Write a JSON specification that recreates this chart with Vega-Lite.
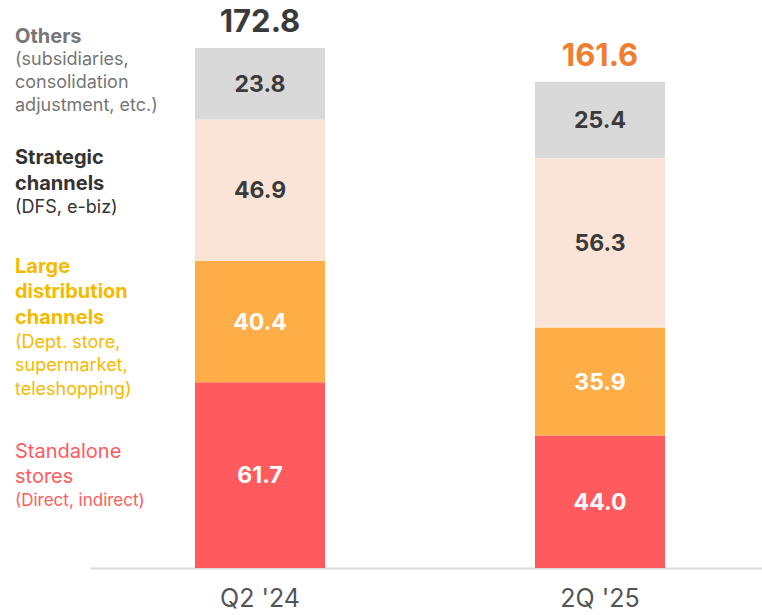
{
  "$schema": "https://vega.github.io/schema/vega-lite/v6.json",
  "width": 762,
  "height": 568,
  "autosize": {"type": "none"},
  "padding": {"left": 0, "top": 0, "right": 0, "bottom": 47},
  "background": "white",
  "config": {"view": {"stroke": null}, "font": "Inter", "text": {"font": "Inter"}},
  "datasets": {
    "segments": [
      {"period": "Q2 '24", "channel": "Standalone stores", "order": 1, "value": 61.7},
      {"period": "Q2 '24", "channel": "Large distribution channels", "order": 2, "value": 40.4},
      {"period": "Q2 '24", "channel": "Strategic channels", "order": 3, "value": 46.9},
      {"period": "Q2 '24", "channel": "Others", "order": 4, "value": 23.8},
      {"period": "2Q '25", "channel": "Standalone stores", "order": 1, "value": 44.0},
      {"period": "2Q '25", "channel": "Large distribution channels", "order": 2, "value": 35.9},
      {"period": "2Q '25", "channel": "Strategic channels", "order": 3, "value": 56.3},
      {"period": "2Q '25", "channel": "Others", "order": 4, "value": 25.4}
    ],
    "channels": [
      {"channel": "Others", "title": "Others", "note": "(subsidiaries,\nconsolidation\nadjustment, etc.)"},
      {"channel": "Strategic channels", "title": "Strategic\nchannels", "note": "(DFS, e-biz)"},
      {"channel": "Large distribution channels", "title": "Large\ndistribution\nchannels", "note": "(Dept. store,\nsupermarket,\nteleshopping)"},
      {"channel": "Standalone stores", "title": "Standalone\nstores", "note": "(Direct, indirect)"}
    ]
  },
  "data": {"name": "segments"},
  "transform": [
    {"stack": "value", "groupby": ["period"], "sort": [{"field": "order", "order": "ascending"}], "as": ["v0", "v1"]},
    {"calculate": "(datum.v0 + datum.v1) / 2", "as": "mid"}
  ],
  "encoding": {
    "x": {
      "field": "period",
      "type": "nominal",
      "sort": ["Q2 '24", "2Q '25"],
      "scale": {"range": [90, 770], "paddingInner": 0.6176, "paddingOuter": 0.3088},
      "axis": {
        "title": null,
        "labelAngle": 0,
        "labelFont": "Inter",
        "labelFontSize": 25,
        "labelColor": "#555555",
        "labelPadding": 18,
        "ticks": false,
        "tickSize": 0,
        "domainColor": "#DADADA",
        "domainWidth": 2,
        "grid": false
      }
    }
  },
  "layer": [
    {
      "mark": {"type": "bar"},
      "encoding": {
        "y": {"field": "v0", "type": "quantitative", "scale": {"domain": [0, 188.75], "nice": false, "zero": true}, "axis": null},
        "y2": {"field": "v1"},
        "color": {
          "field": "channel",
          "type": "nominal",
          "scale": {
            "domain": ["Standalone stores", "Large distribution channels", "Strategic channels", "Others"],
            "range": ["#FF5B5F", "#FFAE47", "#FAE4D7", "#D9D9D9"]
          },
          "legend": null
        }
      }
    },
    {
      "mark": {"type": "text", "font": "Inter", "fontSize": 23, "fontWeight": "bold", "baseline": "middle", "align": "center", "dy": 1},
      "encoding": {
        "y": {"field": "mid", "type": "quantitative"},
        "text": {"field": "value", "type": "quantitative", "format": ".1f"},
        "color": {
          "condition": {"test": "datum.order <= 2", "value": "#FFFFFF"},
          "value": "#3A3A3A"
        }
      }
    },
    {
      "transform": [{"aggregate": [{"op": "sum", "field": "value", "as": "total"}], "groupby": ["period"]}],
      "mark": {"type": "text", "font": "Inter", "fontSize": 31, "fontWeight": "bold", "baseline": "alphabetic", "align": "center", "dy": -16},
      "encoding": {
        "y": {"field": "total", "type": "quantitative"},
        "text": {"field": "total", "type": "quantitative", "format": ".1f"},
        "color": {
          "condition": {"test": "datum.period === \"2Q '25\"", "value": "#F07E30"},
          "value": "#3A3A3A"
        }
      }
    },
    {
      "transform": [
        {"filter": {"and": [{"field": "period", "equal": "Q2 '24"}, {"field": "channel", "equal": "Others"}]}},
        {"lookup": "channel", "from": {"data": {"name": "channels"}, "key": "channel", "fields": ["title", "note"]}}
      ],
      "mark": {"type": "text", "font": "Inter", "fontSize": 20, "fontWeight": "bold", "align": "left", "baseline": "alphabetic", "lineBreak": "\n", "lineHeight": 25, "dx": -245, "dy": -41, "color": "#767676"},
      "encoding": {"y": {"field": "mid", "type": "quantitative"}, "text": {"field": "title"}}
    },
    {
      "transform": [
        {"filter": {"and": [{"field": "period", "equal": "Q2 '24"}, {"field": "channel", "equal": "Others"}]}},
        {"lookup": "channel", "from": {"data": {"name": "channels"}, "key": "channel", "fields": ["title", "note"]}}
      ],
      "mark": {"type": "text", "font": "Inter", "fontSize": 18, "align": "left", "baseline": "alphabetic", "lineBreak": "\n", "lineHeight": 23, "dx": -245, "dy": -19, "color": "#767676"},
      "encoding": {"y": {"field": "mid", "type": "quantitative"}, "text": {"field": "note"}}
    },
    {
      "transform": [
        {"filter": {"and": [{"field": "period", "equal": "Q2 '24"}, {"field": "channel", "equal": "Strategic channels"}]}},
        {"lookup": "channel", "from": {"data": {"name": "channels"}, "key": "channel", "fields": ["title", "note"]}}
      ],
      "mark": {"type": "text", "font": "Inter", "fontSize": 20, "fontWeight": "bold", "align": "left", "baseline": "alphabetic", "lineBreak": "\n", "lineHeight": 26, "dx": -245, "dy": -26, "color": "#333333"},
      "encoding": {"y": {"field": "mid", "type": "quantitative"}, "text": {"field": "title"}}
    },
    {
      "transform": [
        {"filter": {"and": [{"field": "period", "equal": "Q2 '24"}, {"field": "channel", "equal": "Strategic channels"}]}},
        {"lookup": "channel", "from": {"data": {"name": "channels"}, "key": "channel", "fields": ["title", "note"]}}
      ],
      "mark": {"type": "text", "font": "Inter", "fontSize": 18, "align": "left", "baseline": "alphabetic", "lineBreak": "\n", "lineHeight": 23, "dx": -245, "dy": 23, "color": "#333333"},
      "encoding": {"y": {"field": "mid", "type": "quantitative"}, "text": {"field": "note"}}
    },
    {
      "transform": [
        {"filter": {"and": [{"field": "period", "equal": "Q2 '24"}, {"field": "channel", "equal": "Large distribution channels"}]}},
        {"lookup": "channel", "from": {"data": {"name": "channels"}, "key": "channel", "fields": ["title", "note"]}}
      ],
      "mark": {"type": "text", "font": "Inter", "fontSize": 20, "fontWeight": "bold", "align": "left", "baseline": "alphabetic", "lineBreak": "\n", "lineHeight": 25.5, "dx": -245, "dy": -49, "color": "#F5BA00"},
      "encoding": {"y": {"field": "mid", "type": "quantitative"}, "text": {"field": "title"}}
    },
    {
      "transform": [
        {"filter": {"and": [{"field": "period", "equal": "Q2 '24"}, {"field": "channel", "equal": "Large distribution channels"}]}},
        {"lookup": "channel", "from": {"data": {"name": "channels"}, "key": "channel", "fields": ["title", "note"]}}
      ],
      "mark": {"type": "text", "font": "Inter", "fontSize": 18, "align": "left", "baseline": "alphabetic", "lineBreak": "\n", "lineHeight": 23.5, "dx": -245, "dy": 26, "color": "#F5BA00"},
      "encoding": {"y": {"field": "mid", "type": "quantitative"}, "text": {"field": "note"}}
    },
    {
      "transform": [
        {"filter": {"and": [{"field": "period", "equal": "Q2 '24"}, {"field": "channel", "equal": "Standalone stores"}]}},
        {"lookup": "channel", "from": {"data": {"name": "channels"}, "key": "channel", "fields": ["title", "note"]}}
      ],
      "mark": {"type": "text", "font": "Inter", "fontSize": 20, "align": "left", "baseline": "alphabetic", "lineBreak": "\n", "lineHeight": 25, "dx": -245, "dy": -17, "color": "#FF5B5F"},
      "encoding": {"y": {"field": "mid", "type": "quantitative"}, "text": {"field": "title"}}
    },
    {
      "transform": [
        {"filter": {"and": [{"field": "period", "equal": "Q2 '24"}, {"field": "channel", "equal": "Standalone stores"}]}},
        {"lookup": "channel", "from": {"data": {"name": "channels"}, "key": "channel", "fields": ["title", "note"]}}
      ],
      "mark": {"type": "text", "font": "Inter", "fontSize": 17, "align": "left", "baseline": "alphabetic", "lineBreak": "\n", "lineHeight": 23, "dx": -245, "dy": 31, "color": "#FF5B5F"},
      "encoding": {"y": {"field": "mid", "type": "quantitative"}, "text": {"field": "note"}}
    }
  ]
}
